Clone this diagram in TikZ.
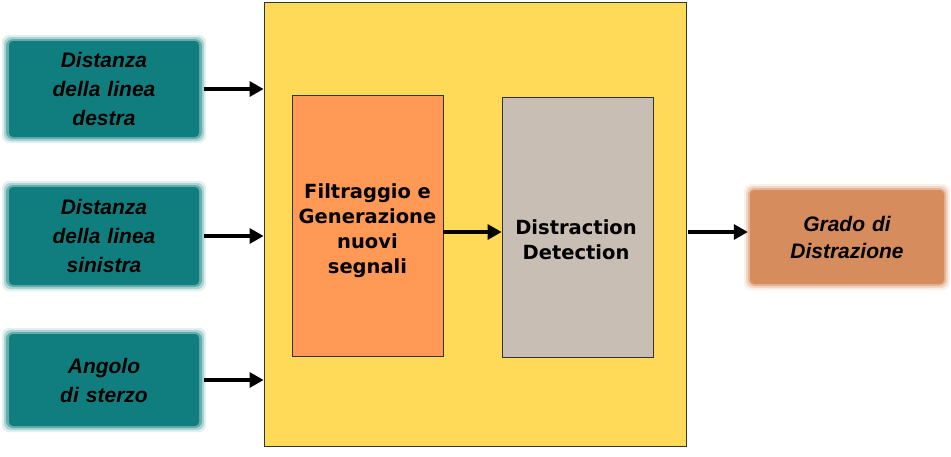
\documentclass[tikz,border=0pt]{standalone}
\usepackage{fontspec}
\setmainfont{Liberation Sans}
\newfontfamily\dejavu{DejaVu Sans}
\usetikzlibrary{arrows.meta}
\definecolor{tealbox}{RGB}{16,126,126}
\definecolor{yellowbg}{RGB}{255,218,88}
\definecolor{orangebox}{RGB}{255,153,85}
\definecolor{graybox}{RGB}{200,190,180}
\definecolor{outbox}{RGB}{214,140,92}
\tikzset{
  inbox/.style={fill=tealbox, minimum width=190pt, text width=186pt, align=center, inner sep=0pt,
    font=\fontsize{21}{29}\selectfont\bfseries\itshape, rounded corners=4pt},
  resbox/.style={fill=outbox, minimum width=194pt, minimum height=94pt, text width=190pt, align=center, inner sep=0pt,
    font=\fontsize{21}{27}\selectfont\bfseries\itshape, rounded corners=4pt},
  procbox/.style={draw=black!80, line width=0.8pt, minimum width=151pt, minimum height=261pt, inner sep=0pt},
  proctext/.style={text width=149pt, align=center, inner sep=0pt, font=\dejavu\fontsize{19.5}{25}\selectfont\bfseries},
  arr/.style={-{Triangle[length=14pt,width=15pt]}, line width=3.2pt, black}
}
\begin{document}
\begin{tikzpicture}[x=1pt,y=-1pt]
\useasboundingbox (0,0) rectangle (951,456);
\fill[white] (0,0) rectangle (951,456);
% big yellow box
\node[draw=black!80, line width=0.8pt, fill=yellowbg, minimum width=422pt, minimum height=444pt, inner sep=0pt] (sys) at (475,224) {};
% input boxes with soft edges
\foreach \yy/\hh in {89/96, 236/98, 380/92}{
  \foreach \k/\op in {6/0.12,4/0.25,2/0.45}{
    \fill[tealbox, opacity=\op, rounded corners=7pt] (8-\k,\yy-\hh/2-\k) rectangle (200+\k,\yy+\hh/2+\k);
  }
}
\node[inbox, minimum height=96pt] (in1) at (104,89) {Distanza\\della linea\\destra};
\node[inbox, minimum height=98pt] (in2) at (104,236) {Distanza\\della linea\\sinistra};
\node[inbox, minimum height=92pt] (in3) at (104,380) {Angolo\\di sterzo};
% output box soft edge
\foreach \k/\op in {6/0.12,4/0.25,2/0.45}{
  \fill[outbox, opacity=\op, rounded corners=7pt] (750-\k,190-\k) rectangle (944+\k,284+\k);
}
\node[resbox] (out) at (847,237) {Grado di\\Distrazione};
% inner process boxes
\node[procbox, fill=orangebox] (filt) at (367.5,225.5) {};
\node[proctext] (filtT) at (367.5,231) {Filtraggio e\\Generazione\\nuovi\\segnali};
\node[procbox, fill=graybox, minimum height=260pt] (det) at (577.5,227) {};
\node[proctext] (detT) at (576,240) {Distraction\\Detection};
% arrows
\coordinate (a1) at (sys.west |- in1.east);
\coordinate (a2) at (sys.west |- in2.east);
\coordinate (a3) at (sys.west |- in3.east);
\draw[arr] ([xshift=5pt]in1.east) -- (a1);
\draw[arr] ([xshift=5pt]in2.east) -- (a2);
\draw[arr] ([xshift=5pt]in3.east) -- (a3);
\draw[arr] (filt.east |- 0,232) -- (det.west |- 0,232);
\draw[arr] ([xshift=2pt]sys.east |- 0,232) -- ([xshift=-2pt]out.west |- 0,232);
\end{tikzpicture}
\end{document}
